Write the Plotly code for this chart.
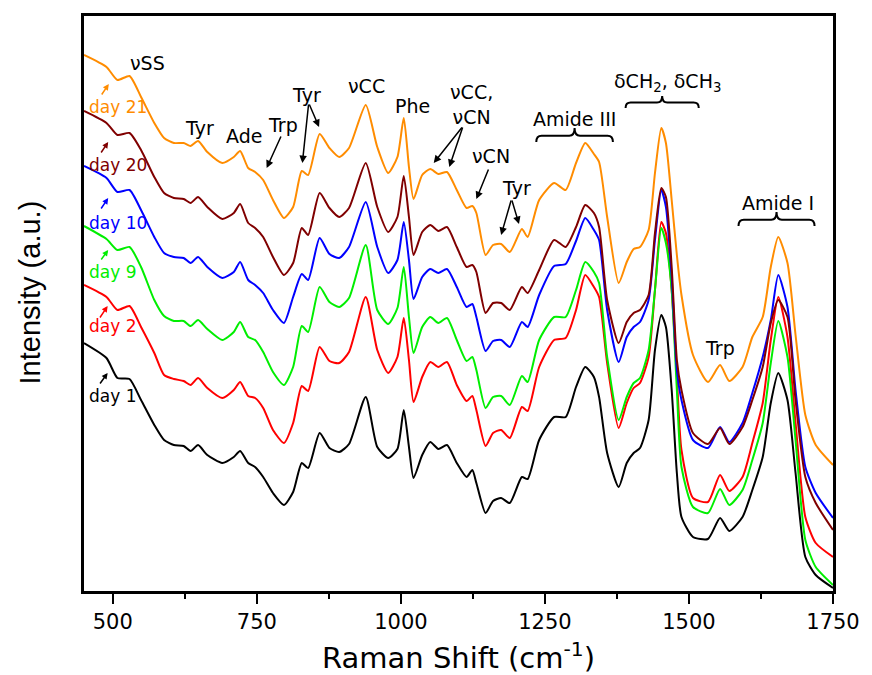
import plotly.graph_objects as go

# Raman shift grid (cm-1) shared by all spectra
wavenumber = [450, 489, 508, 529, 549, 572, 589, 606, 623, 635,
              648, 664, 690, 710, 721, 735, 747, 761, 778, 797,
              813, 828, 839, 859, 876, 893, 910, 939, 959, 978,
              994, 1005, 1014, 1022, 1037, 1051, 1065, 1080, 1097, 1114,
              1124, 1131, 1147, 1160, 1174, 1189, 1210, 1220, 1240, 1266,
              1286, 1304, 1320, 1335, 1344, 1358, 1378, 1392, 1404, 1415,
              1430, 1441, 1452, 1460, 1470, 1479, 1487, 1507, 1533, 1554,
              1570, 1593, 1610, 1628, 1642, 1655, 1671, 1685, 1702, 1720, 1750]

# Offset-stacked intensities (a.u.)
day21 = [536, 524, 511, 515, 494, 468, 453, 448, 448, 445,
         450, 439, 428, 434, 440, 423, 419, 411, 391, 373,
         384, 420, 416, 457, 443, 434, 443, 486, 444, 418,
         434, 473, 424, 392, 416, 422, 417, 419, 401, 383,
         385, 378, 336, 346, 347, 339, 362, 354, 391, 408,
         401, 428, 448, 437, 429, 374, 308, 329, 342, 344,
         361, 418, 463, 448, 391, 336, 296, 236, 209, 226,
         210, 224, 254, 274, 324, 354, 328, 256, 176, 146, 126]
day20 = [480, 468, 456, 458, 441, 414, 398, 393, 392, 388,
         394, 384, 372, 378, 387, 368, 363, 354, 334, 316,
         328, 363, 356, 398, 383, 374, 383, 428, 384, 359,
         374, 415, 374, 336, 359, 366, 360, 364, 344, 324,
         326, 319, 278, 288, 288, 281, 304, 298, 321, 351,
         344, 364, 386, 378, 364, 291, 248, 269, 278, 281,
         296, 358, 403, 394, 324, 231, 201, 158, 147, 163,
         147, 164, 191, 224, 268, 291, 274, 191, 114, 88, 61]
day10 = [425, 413, 399, 401, 381, 354, 338, 334, 333, 328,
         334, 324, 313, 319, 329, 311, 306, 298, 281, 268,
         294, 317, 311, 353, 337, 333, 344, 389, 344, 318,
         331, 369, 331, 292, 314, 322, 318, 322, 304, 284,
         287, 274, 240, 250, 251, 244, 269, 264, 296, 325,
         327, 350, 373, 361, 351, 281, 229, 254, 264, 269,
         291, 351, 401, 384, 314, 221, 191, 151, 143, 164,
         149, 168, 198, 234, 271, 316, 284, 201, 124, 98, 73]
day9 = [365, 352, 341, 344, 324, 291, 275, 270, 270, 265,
        271, 262, 251, 259, 269, 254, 251, 239, 219, 206,
        224, 265, 259, 304, 289, 284, 293, 346, 281, 267,
        283, 324, 274, 238, 264, 274, 268, 273, 251, 230,
        234, 221, 183, 194, 195, 186, 215, 209, 251, 274,
        274, 301, 329, 319, 308, 234, 171, 194, 208, 213,
        241, 301, 363, 348, 301, 201, 124, 84, 78, 102,
        86, 101, 131, 168, 228, 270, 234, 151, 51, 24, 6]
day2 = [306, 294, 281, 285, 264, 238, 216, 212, 210, 206,
        213, 203, 193, 201, 209, 195, 193, 183, 161, 148,
        168, 205, 200, 244, 230, 228, 239, 294, 241, 218,
        234, 273, 231, 189, 214, 229, 224, 229, 206, 190,
        195, 181, 145, 158, 161, 153, 184, 180, 224, 251,
        253, 281, 316, 304, 294, 228, 163, 188, 203, 208,
        234, 301, 369, 358, 301, 214, 141, 93, 89, 116,
        100, 114, 148, 188, 251, 294, 254, 168, 74, 48, 34]
day1 = [248, 233, 213, 212, 191, 166, 151, 146, 145, 140,
        146, 136, 128, 134, 140, 128, 124, 114, 98, 86,
        99, 128, 123, 158, 143, 139, 147, 194, 144, 133,
        142, 181, 144, 113, 136, 149, 142, 146, 128, 114,
        121, 108, 78, 90, 93, 88, 114, 112, 151, 174,
        174, 204, 224, 214, 194, 138, 104, 128, 138, 143,
        171, 241, 276, 264, 201, 118, 74, 54, 52, 73,
        60, 74, 101, 134, 188, 218, 191, 118, 34, 16, 3]

day_names = ["day 1", "day 2", "day 9", "day 10", "day 20", "day 21"]
day_spectra = [day1, day2, day9, day10, day20, day21]
day_colors = ["#000000", "#FF0000", "#00EE00", "#0000FF", "#800000", "#FF8C00"]

# day label positions (left edge x, centre y) and their small arrows (head, tail)
day_label_pos = [(456, 195), (456, 265), (456, 319), (456, 368), (456, 426), (456, 484)]
day_arrows = [(491, 218, 476, 206), (491, 285, 476, 272), (492, 341, 478, 330),
              (492, 393, 478, 381), (492, 449, 478, 437), (493, 507, 479, 495)]

# band assignments
band_labels = [("νSS", 561, 528), ("Tyr", 651, 463), ("Ade", 727, 455),
               ("Trp", 796, 466), ("Tyr", 837, 496), ("νCC", 940, 505),
               ("Phe", 1020, 485), ("νCC,<br>νCN", 1123, 487), ("νCN", 1156, 435),
               ("Tyr", 1201, 403), ("Amide III", 1302, 472),
               ("δCH<sub>2</sub>, δCH<sub>3</sub>", 1462, 509),
               ("Trp", 1553, 243), ("Amide I", 1654, 388)]
band_arrows = [(767, 423, 793, 456), (829, 428, 840, 488), (858, 464, 840, 488),
               (1057, 428, 1108, 465), (1084, 424, 1108, 465), (1131, 392, 1153, 423),
               (1174, 356, 1192, 392), (1205, 367, 1192, 392)]
# curly braces: (x start, x end, y of the ends, y of the tip)
braces = [(1235, 1368, 449, 463), (1390, 1517, 483, 495), (1586, 1718, 365, 379)]

TXT = "DejaVu Sans"

fig = go.Figure()
for name, vals, col in zip(day_names, day_spectra, day_colors):
    assert len(vals) == len(wavenumber)
    fig.add_trace(go.Scatter(x=wavenumber, y=vals, mode="lines", name=name,
                             line=dict(color=col, width=2, shape="spline", smoothing=0.6),
                             showlegend=False))

ann = []
for (name, col, (lx, ly), (hx, hy, tx, ty)) in zip(day_names, day_colors, day_label_pos, day_arrows):
    ann.append(dict(x=lx, y=ly, text=name, showarrow=False, xanchor="left", yanchor="middle",
                    font=dict(family=TXT, size=17, color=col)))
    ann.append(dict(x=hx, y=hy, ax=tx, ay=ty, axref="x", ayref="y", text="", showarrow=True,
                    arrowhead=2, arrowsize=0.8, arrowwidth=1.5, arrowcolor=col, standoff=0))

for text, x, y in band_labels:
    ann.append(dict(x=x, y=y, text=text, showarrow=False, xanchor="center", yanchor="middle",
                    font=dict(family=TXT, size=19, color="black")))
for hx, hy, tx, ty in band_arrows:
    ann.append(dict(x=hx, y=hy, ax=tx, ay=ty, axref="x", ayref="y", text="", showarrow=True,
                    arrowhead=2, arrowsize=1, arrowwidth=1.5, arrowcolor="black", standoff=0))

# axis titles
ann.append(dict(x=0.5, y=-0.113, xref="paper", yref="paper", showarrow=False,
                text="Raman Shift (cm<sup>-1</sup>)", yanchor="middle",
                font=dict(family=TXT, size=29, color="black")))
ann.append(dict(x=-0.0715, y=0.52, xref="paper", yref="paper", showarrow=False,
                text="Intensity (a.u.)", textangle=-90, xanchor="center", yanchor="middle",
                font=dict(family="Liberation Sans", size=29, color="black")))

shapes = []
for x0, x1, ye, yt in braces:
    xm = (x0 + x1) / 2
    yl = ye + 0.45 * (yt - ye)
    dx = (x1 - x0) * 0.07
    path = (f"M {x0},{ye} Q {x0},{yl} {x0 + dx},{yl} L {xm - dx},{yl} "
            f"Q {xm},{yl} {xm},{yt} Q {xm},{yl} {xm + dx},{yl} "
            f"L {x1 - dx},{yl} Q {x1},{yl} {x1},{ye}")
    shapes.append(dict(type="path", path=path, xref="x", yref="y",
                       line=dict(color="black", width=2)))

fig.update_layout(
    width=872, height=675,
    margin=dict(l=84, r=33, t=16, b=84),
    plot_bgcolor="white", paper_bgcolor="white",
    showlegend=False,
    annotations=ann, shapes=shapes,
    xaxis=dict(range=[450, 1750], tickmode="linear", tick0=500, dtick=250,
               ticks="outside", ticklen=10, tickwidth=2, tickcolor="black",
               showline=True, linecolor="black", linewidth=2.5, mirror=True,
               showgrid=False, zeroline=False,
               tickfont=dict(family=TXT, size=21, color="black"),
               minor=dict(tick0=500, dtick=125, ticks="outside", ticklen=5,
                          tickwidth=2, tickcolor="black", showgrid=False)),
    yaxis=dict(range=[0, 575], showticklabels=False, ticks="",
               showline=True, linecolor="black", linewidth=2.5, mirror=True,
               showgrid=False, zeroline=False),
)

fig.write_html("out.html")
